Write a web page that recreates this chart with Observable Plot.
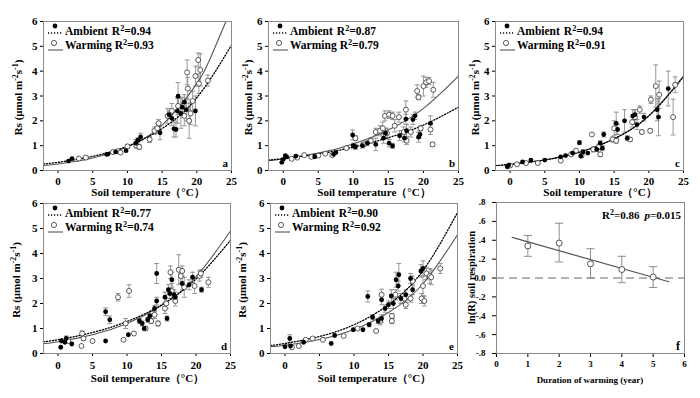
<!DOCTYPE html>
<html><head><meta charset="utf-8">
<script src="https://cdn.jsdelivr.net/npm/d3@7"></script>
<script src="https://cdn.jsdelivr.net/npm/@observablehq/plot@0.6"></script>
<style>
body{margin:0;background:#fff;}
#wrap{position:relative;width:700px;height:398px;overflow:hidden;background:#fff;}
#wrap svg{position:absolute;}
</style></head><body><div id="wrap"></div><script>
// ---------- data ----------
const tempTicks = [0, 5, 10, 15, 20, 25];
const rsTicks = [0, 1, 2, 3, 4, 5, 6];
const panelLetters = ["a", "b", "c", "d", "e", "f"];
const ambientR2 = ["0.94", "0.87", "0.94", "0.77", "0.90"];
const warmingR2 = ["0.93", "0.79", "0.91", "0.74", "0.92"];
const xLabel = "Soil temperature（°C）";

// points: [soil temperature, Rs, error]
const ambA = [[1.5,0.38,0.03],[2.0,0.48,0.04],[7.0,0.65,0.03],[7.2,0.66,0.03],[8.3,0.75,0.04],[9.8,0.80,0.05],[11.2,1.10,0.15],[11.5,1.22,0.1],[11.9,1.35,0.15],[14.7,1.52,0.28],[16.0,2.25,0.15],[16.4,2.10,0.3],[16.7,1.68,0.33],[17.0,1.65,0.3],[17.2,2.40,0.5],[17.3,2.99,0.55],[17.7,2.30,0.6],[17.9,2.55,0.4],[18.2,2.75,0.3],[18.5,2.45,0.45],[19.8,2.40,0.6]];
const warmA = [[3.0,0.48,0.03],[4.0,0.52,0.04],[7.9,0.74,0.05],[8.6,0.78,0.06],[9.0,0.72,0.05],[10.0,0.97,0.08],[11.3,1.00,0.1],[11.7,0.95,0.1],[13.2,1.25,0.12],[13.9,1.6,0.15],[14.3,1.7,0.2],[14.5,1.9,0.15],[15.8,2.2,0.3],[16.4,2.4,0.3],[17.3,2.6,0.35],[18.2,2.2,0.4],[18.6,3.95,0.5],[18.7,3.3,0.45],[18.9,2.0,0.7],[19.1,2.3,0.45],[19.4,2.8,0.4],[19.8,3.8,0.4],[20.2,4.45,0.28],[20.5,4.05,0.65],[20.3,3.5,0.4],[21.6,3.62,0.22]];
const ambB = [[-0.2,0.33,0.04],[0.0,0.45,0.04],[0.3,0.60,0.05],[0.5,0.55,0.04],[1.8,0.58,0.04],[4.5,0.55,0.04],[7.2,0.65,0.05],[7.5,0.72,0.05],[9.9,1.43,0.2],[10.0,1.0,0.1],[10.3,0.95,0.1],[11.3,1.0,0.1],[12.0,1.1,0.1],[13.2,1.05,0.25],[14.3,1.3,0.2],[14.6,1.5,0.2],[15.1,1.1,0.15],[15.6,0.99,0.1],[16.6,1.4,0.2],[17.3,1.3,0.15],[17.5,2.07,0.2],[17.6,1.6,0.25],[18.5,2.05,0.2],[18.8,2.2,0.15],[19.3,1.34,0.2],[19.5,1.45,0.15],[21.0,1.9,0.3]];
const warmB = [[1.2,0.47,0.04],[2.0,0.52,0.04],[3.0,0.62,0.05],[4.0,0.55,0.05],[5.0,0.6,0.05],[6.0,0.68,0.06],[7.0,0.62,0.05],[9.0,0.9,0.06],[10.3,1.3,0.1],[11.5,1.05,0.08],[12.5,1.2,0.1],[13.2,1.55,0.15],[13.8,1.6,0.2],[14.2,1.7,0.25],[14.5,2.2,0.2],[14.8,1.5,0.2],[15.1,2.25,0.15],[15.6,2.2,0.15],[15.9,1.8,0.25],[16.5,2.15,0.2],[17.2,1.55,0.2],[17.5,2.45,0.35],[17.6,1.2,0.15],[18.2,1.55,0.2],[19.1,3.2,0.25],[19.3,2.95,0.1],[19.6,1.7,0.1],[20.0,3.4,0.4],[20.4,3.55,0.2],[20.8,3.6,0.15],[21.0,1.65,0.2],[21.4,3.25,0.3],[21.3,1.05,0.08]];
const ambC = [[-0.4,0.15,0.04],[-0.2,0.22,0.04],[1.8,0.35,0.04],[3.0,0.42,0.04],[5.0,0.42,0.04],[7.3,0.55,0.05],[8.0,0.6,0.05],[9.0,0.7,0.06],[10.0,1.12,0.08],[10.2,0.58,0.06],[10.5,0.75,0.08],[11.2,0.7,0.06],[12.5,0.85,0.08],[13.0,1.1,0.1],[13.3,0.9,0.1],[13.5,1.45,0.1],[15.3,1.9,0.45],[15.5,1.65,0.2],[16.5,2.0,0.45],[16.9,1.3,0.1],[17.7,2.2,0.25],[18.0,2.25,0.2],[18.3,1.85,0.2],[19.3,2.15,0.15],[21.2,2.45,0.45],[21.4,2.15,0.75],[22.8,3.3,0.7]];
const warmC = [[0.0,0.2,0.04],[1.0,0.25,0.04],[2.3,0.3,0.04],[4.0,0.3,0.05],[7.3,0.4,0.05],[8.8,0.65,0.06],[9.5,0.8,0.06],[10.3,0.6,0.06],[11.8,1.45,0.05],[12.0,0.85,0.1],[12.8,0.95,0.1],[13.0,0.65,0.08],[14.8,1.25,0.1],[15.0,1.7,0.3],[15.3,1.2,0.1],[17.3,1.25,0.08],[17.6,1.95,0.2],[18.0,2.15,0.3],[18.7,2.45,0.15],[19.0,1.55,0.08],[20.2,1.6,0.08],[20.3,2.85,0.15],[21.0,3.4,0.85],[21.5,3.05,0.55],[23.5,2.15,0.72],[23.8,3.45,0.32]];
const ambD = [[0.4,0.25,0.04],[0.5,0.5,0.05],[1.0,0.45,0.05],[1.2,0.6,0.1],[2.0,0.38,0.04],[6.9,1.67,0.15],[7.5,1.35,0.15],[6.9,0.5,0.04],[10.2,0.75,0.05],[11.8,1.3,0.1],[12.2,1.2,0.1],[12.5,1.0,0.08],[13.0,1.35,0.1],[13.3,1.5,0.1],[14.0,1.8,0.12],[14.3,2.1,0.15],[14.3,3.2,0.4],[15.5,2.25,0.2],[15.8,1.4,0.1],[16.0,2.55,0.2],[16.2,2.4,0.2],[16.5,2.95,0.3],[16.8,2.35,0.2],[17.0,2.25,0.2],[18.0,2.8,0.25],[19.0,2.75,0.2],[19.5,3.05,0.2],[20.8,2.55,0.1]];
const warmD = [[1.5,0.5,0.05],[3.5,0.8,0.1],[3.7,0.6,0.08],[3.4,0.3,0.04],[5.0,0.5,0.04],[8.7,2.25,0.15],[9.5,0.55,0.04],[9.8,1.2,0.2],[10.3,2.5,0.25],[11.0,0.8,0.05],[12.7,1.0,0.08],[13.5,1.3,0.1],[14.0,1.55,0.15],[14.5,1.2,0.1],[15.5,1.8,0.2],[15.7,2.0,0.2],[16.3,3.25,0.25],[16.5,2.5,0.3],[17.0,2.1,0.2],[17.5,3.35,0.6],[17.8,3.1,0.3],[18.0,3.3,0.2],[18.3,2.65,0.4],[19.8,2.7,0.3],[20.5,3.1,0.2],[20.7,3.2,0.15],[21.8,2.85,0.2]];
const ambE = [[0.0,0.27,0.04],[0.7,0.6,0.15],[0.8,0.3,0.04],[2.7,0.45,0.05],[6.7,0.4,0.05],[7.2,0.72,0.05],[9.9,0.95,0.06],[11.3,0.95,0.06],[12.0,2.28,0.22],[12.2,1.15,0.08],[12.7,1.45,0.1],[13.5,1.3,0.1],[14.0,2.15,0.2],[14.0,1.4,0.15],[14.5,1.8,0.15],[15.0,1.95,0.15],[15.4,2.3,0.25],[15.7,2.0,0.2],[16.1,2.95,0.3],[16.4,2.7,0.2],[16.5,3.15,0.45],[16.8,2.2,0.2],[17.5,2.35,0.2],[18.2,3.0,0.2],[18.5,2.55,0.2],[19.7,3.3,0.25],[20.0,3.4,0.3]];
const warmE = [[1.0,0.25,0.04],[2.0,0.3,0.04],[3.0,0.55,0.05],[4.0,0.6,0.05],[5.5,0.55,0.05],[8.5,0.7,0.06],[10.5,1.0,0.06],[13.2,0.9,0.05],[13.8,1.3,0.15],[14.0,2.35,0.22],[15.5,1.5,0.1],[15.5,1.3,0.1],[16.0,2.35,0.2],[17.3,2.2,0.2],[17.5,1.95,0.15],[18.2,2.2,0.15],[18.5,2.9,0.2],[19.8,2.2,0.2],[20.0,2.7,0.4],[20.2,2.1,0.2],[20.5,3.2,0.25],[21.0,3.1,0.3],[21.2,3.05,0.3],[22.5,3.4,0.2]];

// fitted curves: [T, Rs]
const ambCurveA = [[-2.1,0.26],[0,0.33],[5,0.57],[10,0.98],[15,1.69],[20,2.93],[25,5.05]];
const warmCurveA = [[-2.1,0.2],[0,0.26],[5,0.5],[10,0.95],[15,1.83],[20,3.5],[22,4.55],[24.2,6.0]];
const ambCurveB = [[-2.1,0.42],[0,0.48],[5,0.67],[10,0.94],[15,1.32],[20,1.83],[25,2.55]];
const warmCurveB = [[-2.1,0.39],[0,0.46],[5,0.70],[10,1.07],[15,1.63],[20,2.5],[25,3.8]];
const ambCurveC = [[-2.1,0.2],[0,0.25],[5,0.43],[10,0.74],[15,1.28],[20,2.2],[25,3.78]];
const warmCurveC = [[-2.1,0.19],[0,0.24],[5,0.42],[10,0.73],[15,1.27],[20,2.2],[25,3.8]];
const ambCurveD = [[-2.1,0.47],[0,0.55],[5,0.84],[10,1.28],[15,1.94],[20,2.98],[25,4.53]];
const warmCurveD = [[-2.1,0.39],[0,0.47],[5,0.75],[10,1.2],[15,1.92],[20,3.07],[25,4.9]];
const ambCurveE = [[-2.1,0.32],[0,0.4],[5,0.68],[10,1.15],[15,1.95],[20,3.32],[25,5.64]];
const warmCurveE = [[-2.1,0.27],[0,0.33],[5,0.56],[10,0.96],[15,1.64],[20,2.79],[25,4.75]];

// panel f
const years = [1, 2, 3, 4, 5];
const lnR = [0.34, 0.37, 0.15, 0.09, 0.01];
const lnRLow = [0.23, 0.17, 0.0, -0.05, -0.10];
const lnRHigh = [0.45, 0.58, 0.31, 0.23, 0.12];
const fFitX = [0.5, 5.5];
const fFitY = [0.43, -0.04];
const yearTicks = [0, 1, 2, 3, 4, 5, 6];
const fYTicks = [-0.8, -0.6, -0.4, -0.2, 0, 0.2, 0.4, 0.6, 0.8];
const fYTickLabels = ["-.8", "-.6", "-.4", "-.2", "0.0", ".2", ".4", ".6", ".8"];
const fStat = ["R", "2", "=0.86", "p", "=0.015"];

// ---------- drawing ----------
const SERIF = "'Liberation Serif','Times New Roman',serif";
const wrap = document.getElementById("wrap");

function rich(sel, parts, attrs) {
  const t = sel.append("text").attr("text-anchor", "start");
  for (const k in attrs) t.attr(k, attrs[k]);
  let up = false;
  parts.forEach(([s, kind, dx]) => {
    const ts = t.append("tspan").text(s);
    if (dx) ts.attr("dx", dx);
    if (kind === "sup") { ts.attr("dy", -4.5).attr("font-size", "0.72em"); up = true; }
    else { if (up) { ts.attr("dy", 4.5); up = false; } }
    if (kind === "it") ts.attr("font-style", "italic");
  });
  return t;
}

const panels = [
  {left:0,   top:0,   w:240, h:199, ml:43, mr:9,  mt:21, mb:29, amb:ambA, warm:warmA, ac:ambCurveA, wc:warmCurveA, yl:21, xl:26, tp:4},
  {left:240, top:0,   w:230, h:199, ml:28, mr:12, mt:21, mb:29, amb:ambB, warm:warmB, ac:ambCurveB, wc:warmCurveB, yl:16, xl:26, tp:4},
  {left:470, top:0,   w:230, h:199, ml:25, mr:17, mt:21, mb:29, amb:ambC, warm:warmC, ac:ambCurveC, wc:warmCurveC, yl:16, xl:26, tp:4},
  {left:0,   top:199, w:240, h:199, ml:43, mr:10, mt:4,  mb:45, amb:ambD, warm:warmD, ac:ambCurveD, wc:warmCurveD, yl:23, xl:29, tp:5},
  {left:240, top:199, w:230, h:199, ml:30, mr:13, mt:4,  mb:45, amb:ambE, warm:warmE, ac:ambCurveE, wc:warmCurveE, yl:24, xl:29, tp:5}
];

panels.forEach((p, i) => {
  const amb = p.amb.map(([t, rs, e]) => ({t, rs, e}));
  const warm = p.warm.map(([t, rs, e]) => ({t, rs, e}));
  const all = amb.concat(warm);
  const capped = all.filter(d => d.e >= 0.08);
  const svg = Plot.plot({
    width: p.w, height: p.h,
    marginLeft: p.ml, marginRight: p.mr, marginTop: p.mt, marginBottom: p.mb,
    style: {background: "transparent", overflow: "visible", fontFamily: SERIF, fontSize: "11px", fontWeight: "bold", color: "#000"},
    x: {domain: [-2.1, 25], ticks: tempTicks, tickFormat: d => String(d), tickSize: 3, tickPadding: p.tp, label: null},
    y: {domain: [0, 6], ticks: rsTicks, tickFormat: d => String(d), tickSize: 3, tickPadding: 3, label: null},
    marks: [
      Plot.ruleX(all, {x: "t", y1: d => d.rs - d.e, y2: d => d.rs + d.e, stroke: "#8c8c8c", strokeWidth: 0.9}),
      Plot.link(capped, {x1: d => d.t - 0.35, x2: d => d.t + 0.35, y1: d => d.rs + d.e, y2: d => d.rs + d.e, stroke: "#8c8c8c", strokeWidth: 0.9}),
      Plot.link(capped, {x1: d => d.t - 0.35, x2: d => d.t + 0.35, y1: d => d.rs - d.e, y2: d => d.rs - d.e, stroke: "#8c8c8c", strokeWidth: 0.9}),
      Plot.line(p.wc, {x: d => d[0], y: d => d[1], curve: "natural", stroke: "#555", strokeWidth: 1.1}),
      Plot.line(p.ac, {x: d => d[0], y: d => d[1], curve: "natural", stroke: "#000", strokeWidth: 1.3, strokeDasharray: "1.2,1.8"}),
      Plot.dot(warm, {x: "t", y: "rs", r: 2.5, fill: "white", stroke: "#333", strokeWidth: 0.8}),
      Plot.dot(amb, {x: "t", y: "rs", r: 2.4, fill: "#000"}),
      Plot.frame({stroke: "#8a8a8a"})
    ]
  });
  svg.style.left = p.left + "px";
  svg.style.top = p.top + "px";
  wrap.appendChild(svg);
  const s = d3.select(svg);
  const fl = p.ml, fr = p.w - p.mr, ft = p.mt, fb = p.h - p.mb;
  const txt = {"font-family": SERIF, "font-weight": "bold", "fill": "#000"};
  // legend
  s.append("circle").attr("cx", fl + 12).attr("cy", ft + 5).attr("r", 2.4).attr("fill", "#000");
  s.append("line").attr("x1", fl + 5).attr("x2", fl + 20).attr("y1", ft + 12).attr("y2", ft + 12)
    .attr("stroke", "#000").attr("stroke-width", 1.3).attr("stroke-dasharray", "1.2,1.8");
  rich(s, [["Ambient"], ["R", null, 4], ["2", "sup"], ["=" + ambientR2[i]]], {...txt, x: fl + 22, y: ft + 14, "font-size": 11.5});
  s.append("circle").attr("cx", fl + 11).attr("cy", ft + 22).attr("r", 2.6).attr("fill", "white").attr("stroke", "#333").attr("stroke-width", 0.8);
  s.append("line").attr("x1", fl + 5).attr("x2", fl + 20).attr("y1", ft + 29).attr("y2", ft + 29)
    .attr("stroke", "#555").attr("stroke-width", 1.1);
  rich(s, [["Warming"], ["R", null, 3], ["2", "sup"], ["=" + warmingR2[i]]], {...txt, x: fl + 22, y: ft + 28, "font-size": 11.5});
  // panel letter
  s.append("text").attr("x", fr - 3).attr("y", fb - 3).attr("text-anchor", "end")
    .attr("font-family", SERIF).attr("font-weight", "bold").attr("font-size", 11).text(panelLetters[i]);
  // axis titles
  s.append("text").attr("x", (fl + fr) / 2 + 11).attr("y", fb + p.xl).attr("text-anchor", "middle")
    .attr("font-family", SERIF).attr("font-weight", "bold").attr("font-size", 11).text(xLabel);
  rich(s, [["Rs (μmol m"], ["-2", "sup"], ["s"], ["-1", "sup"], [")"]],
    {...txt, "font-size": 11, "text-anchor": "middle", transform: `translate(${fl - p.yl},${(ft + fb) / 2 + 2}) rotate(-90)`});
});

// panel f
(function () {
  const p = {left: 470, top: 199, w: 230, h: 199, ml: 26, mr: 16, mt: 3, mb: 45};
  const pts = years.map((y, i) => ({y, v: lnR[i], lo: lnRLow[i], hi: lnRHigh[i]}));
  const fit = fFitX.map((x, i) => ({x, v: fFitY[i]}));
  const svg = Plot.plot({
    width: p.w, height: p.h,
    marginLeft: p.ml, marginRight: p.mr, marginTop: p.mt, marginBottom: p.mb,
    style: {background: "transparent", overflow: "visible", fontFamily: SERIF, fontSize: "9px", fontWeight: "bold", color: "#000"},
    x: {domain: [0, 6], ticks: yearTicks, tickFormat: d => String(d), tickSize: 4, tickPadding: 3, label: null},
    y: {domain: [-0.8, 0.8], ticks: fYTicks, tickFormat: d => fYTickLabels[fYTicks.indexOf(d)], tickSize: 4, tickPadding: 7, label: null},
    marks: [
      Plot.ruleY([0], {stroke: "#9a9a9a", strokeWidth: 1.6, strokeDasharray: "8,5"}),
      Plot.ruleX(pts, {x: "y", y1: "lo", y2: "hi", stroke: "#8c8c8c", strokeWidth: 1}),
      Plot.link(pts, {x1: d => d.y - 0.13, x2: d => d.y + 0.13, y1: "hi", y2: "hi", stroke: "#8c8c8c", strokeWidth: 1}),
      Plot.link(pts, {x1: d => d.y - 0.13, x2: d => d.y + 0.13, y1: "lo", y2: "lo", stroke: "#8c8c8c", strokeWidth: 1}),
      Plot.line(fit, {x: "x", y: "v", stroke: "#555", strokeWidth: 1.2}),
      Plot.dot(pts, {x: "y", y: "v", r: 3, fill: "white", stroke: "#444", strokeWidth: 0.9}),
      Plot.frame({stroke: "#8a8a8a"})
    ]
  });
  svg.style.left = p.left + "px";
  svg.style.top = p.top + "px";
  wrap.appendChild(svg);
  const s = d3.select(svg);
  const fl = p.ml, fr = p.w - p.mr, ft = p.mt, fb = p.h - p.mb;
  const txt = {"font-family": SERIF, "font-weight": "bold", "fill": "#000"};
  rich(s, [[fStat[0]], [fStat[1], "sup"], [fStat[2]], [fStat[3], "it", 5], [fStat[4]]],
    {...txt, x: fr - 3, y: ft + 17, "text-anchor": "end", "font-size": 11});
  s.append("text").attr("x", fr - 4).attr("y", fb - 3).attr("text-anchor", "end")
    .attr("font-family", SERIF).attr("font-weight", "bold").attr("font-size", 12).text(panelLetters[5]);
  s.append("text").attr("x", (fl + fr) / 2).attr("y", fb + 30).attr("text-anchor", "middle")
    .attr("font-family", SERIF).attr("font-weight", "bold").attr("font-size", 9).text("Duration of warming (year)");
  s.append("text").attr("x", 0).attr("y", 0).attr("text-anchor", "middle")
    .attr("transform", `translate(${fl - 21},${(ft + fb) / 2}) rotate(-90)`)
    .attr("font-family", SERIF).attr("font-weight", "bold").attr("font-size", 10.5).text("ln(R) soil respiration");
})();
</script></body></html>
